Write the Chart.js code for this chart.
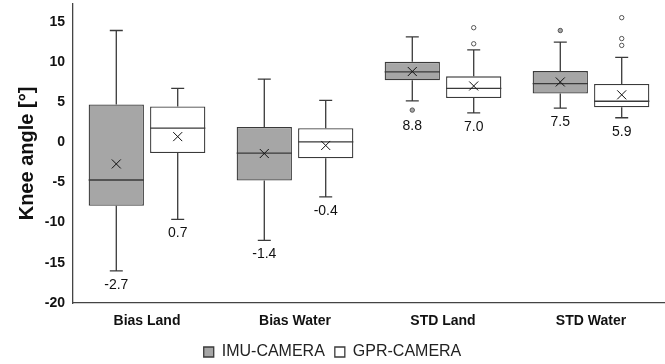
<!DOCTYPE html>
<html>
<head>
<meta charset="utf-8">
<script src="https://cdn.jsdelivr.net/npm/chart.js@4"></script>
<style>
  html, body { margin: 0; padding: 0; background: #fff; }
  #wrap { width: 665px; height: 364px; }
</style>
</head>
<body>
<div id="wrap"><canvas id="kneeChart"></canvas></div>
<script>
const categories = ["Bias Land", "Bias Water", "STD Land", "STD Water"];
const yTicks = [-20, -15, -10, -5, 0, 5, 10, 15];

// IMU-CAMERA
const imuLow = [-16.0, -12.2, 5.15, 4.25];
const imuQ1 = [-7.9, -4.75, 7.7, 6.05];
const imuMedian = [-4.7, -1.35, 8.75, 7.3];
const imuQ3 = [4.7, 1.9, 10.0, 8.85];
const imuHigh = [13.9, 7.85, 13.1, 12.45];
const imuMean = [-2.7, -1.4, 8.8, 7.5];
const imuOutliers = [[], [], [4.0], [13.9]];

// GPR-CAMERA
const gprLow = [-9.6, -6.8, 3.65, 3.05];
const gprQ1 = [-1.35, -2.0, 5.5, 4.35];
const gprMedian = [1.75, 0.05, 6.7, 5.1];
const gprQ3 = [4.45, 1.75, 8.2, 7.25];
const gprHigh = [6.7, 5.2, 11.5, 10.55];
const gprMean = [0.7, -0.4, 7.0, 5.9];
const gprOutliers = [[], [], [12.25, 14.25], [12.05, 12.9, 15.5]];

const FONT = "'Liberation Sans', Arial, sans-serif";

const series = [
    { low: imuLow, median: imuMedian, high: imuHigh, mean: imuMean, outliers: imuOutliers, dot: "#a6a6a6" },
    { low: gprLow, median: gprMedian, high: gprHigh, mean: gprMean, outliers: gprOutliers, dot: "#ffffff" }
];

// whiskers, median, mean cross, outliers and mean labels on top of the floating bars
const boxExtras = {
    id: "boxExtras",
    afterDatasetsDraw(chart) {
        const ctx = chart.ctx;
        const y = chart.scales.y;
        ctx.save();
        series.forEach((s, di) => {
            const meta = chart.getDatasetMeta(di);
            meta.data.forEach((bar, j) => {
                const { x, width } = bar.getProps(["x", "width"], true);
                const half = width / 2;
                const cap = 6.5;
                const pLow = y.getPixelForValue(s.low[j]);
                const pHigh = y.getPixelForValue(s.high[j]);
                const pQ1 = y.getPixelForValue(chart.data.datasets[di].data[j][0]);
                const pQ3 = y.getPixelForValue(chart.data.datasets[di].data[j][1]);

                ctx.strokeStyle = "#3a3a3a";
                ctx.lineWidth = 1.3;
                ctx.beginPath();
                ctx.moveTo(x, pQ3); ctx.lineTo(x, pHigh);
                ctx.moveTo(x - cap, pHigh); ctx.lineTo(x + cap, pHigh);
                ctx.moveTo(x, pQ1); ctx.lineTo(x, pLow);
                ctx.moveTo(x - cap, pLow); ctx.lineTo(x + cap, pLow);
                const pMed = y.getPixelForValue(s.median[j]);
                ctx.moveTo(x - half, pMed); ctx.lineTo(x + half, pMed);
                ctx.stroke();

                // mean cross
                const pMean = y.getPixelForValue(s.mean[j]);
                ctx.lineWidth = 1;
                ctx.strokeStyle = "#111";
                ctx.beginPath();
                ctx.moveTo(x - 4.5, pMean - 4.5); ctx.lineTo(x + 4.5, pMean + 4.5);
                ctx.moveTo(x + 4.5, pMean - 4.5); ctx.lineTo(x - 4.5, pMean + 4.5);
                ctx.stroke();

                // outliers
                let lowest = pLow;
                s.outliers[j].forEach(v => {
                    const py = y.getPixelForValue(v);
                    ctx.beginPath();
                    ctx.arc(x, py, 2.2, 0, Math.PI * 2);
                    ctx.fillStyle = s.dot;
                    ctx.fill();
                    ctx.strokeStyle = "#555";
                    ctx.lineWidth = 1;
                    ctx.stroke();
                    if (py + 2 > lowest) lowest = py + 2;
                });

                // mean label
                ctx.fillStyle = "#111";
                ctx.font = "14px " + FONT;
                ctx.textAlign = "center";
                ctx.textBaseline = "middle";
                ctx.fillText(s.mean[j].toFixed(1), x, lowest + 14);
            });
        });
        ctx.restore();
    }
};

new Chart(document.getElementById("kneeChart"), {
    type: "bar",
    data: {
        labels: categories,
        datasets: [
            {
                label: "IMU-CAMERA",
                data: imuQ1.map((q, i) => [q, imuQ3[i]]),
                backgroundColor: "#a6a6a6",
                borderColor: "#3a3a3a",
                borderWidth: 1.3,
                borderSkipped: false,
                categoryPercentage: 0.83,
                barPercentage: 0.9
            },
            {
                label: "GPR-CAMERA",
                data: gprQ1.map((q, i) => [q, gprQ3[i]]),
                backgroundColor: "#ffffff",
                borderColor: "#3a3a3a",
                borderWidth: 1.3,
                borderSkipped: false,
                categoryPercentage: 0.83,
                barPercentage: 0.9
            }
        ]
    },
    options: {
        responsive: true,
        maintainAspectRatio: false,
        animation: false,
        layout: { padding: { top: 4, right: 0, left: 0, bottom: 0 } },
        plugins: {
            legend: {
                display: true,
                position: "bottom",
                maxHeight: 30,
                labels: {
                    boxWidth: 10,
                    boxHeight: 10,
                    padding: 10,
                    color: "#222",
                    font: { family: FONT, size: 16 }
                }
            },
            tooltip: { enabled: false }
        },
        scales: {
            x: {
                grid: { display: false, drawTicks: false },
                border: { display: true, color: "#444", width: 1.3 },
                afterFit: axis => {
                    axis.height = 31;
                    axis.paddingLeft = 0;
                    axis.paddingRight = 0;
                },
                ticks: {
                    padding: 10,
                    color: "#111",
                    font: { family: FONT, size: 14, weight: "bold" }
                }
            },
            y: {
                min: -20,
                max: 17.2,
                grid: { display: false, drawTicks: false },
                border: { display: true, color: "#444", width: 1.3 },
                afterBuildTicks: axis => {
                    axis.ticks = yTicks.map(v => ({ value: v }));
                },
                afterFit: axis => {
                    axis.width = 73;
                    axis.paddingTop = 0;
                    axis.paddingBottom = 0;
                },
                ticks: {
                    padding: 8,
                    color: "#111",
                    font: { family: FONT, size: 14, weight: "bold" }
                },
                title: {
                    display: true,
                    text: "Knee angle [°]",
                    color: "#111",
                    padding: { top: 15, bottom: 0 },
                    font: { family: FONT, size: 20, weight: "bold" }
                }
            }
        }
    },
    plugins: [boxExtras]
});
</script>
</body>
</html>
